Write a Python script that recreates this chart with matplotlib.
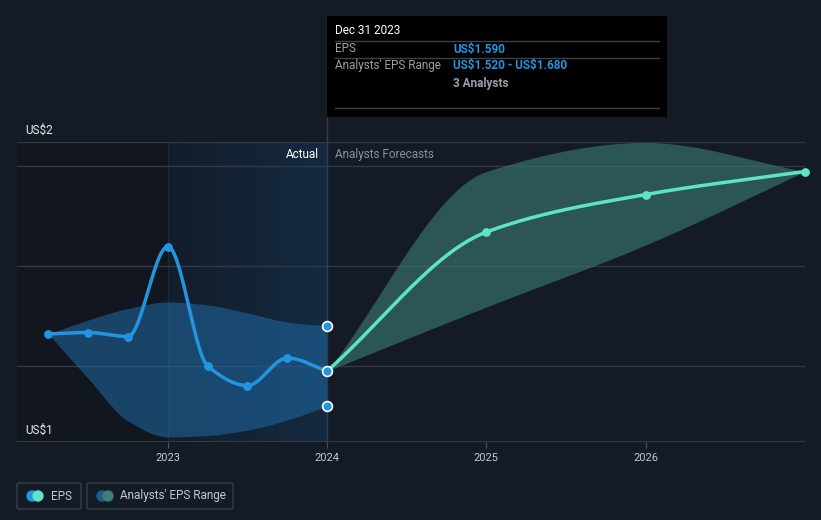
import numpy as np
import matplotlib
matplotlib.use("Agg")
import matplotlib.pyplot as plt
from matplotlib.patches import FancyBboxPatch, Rectangle, Ellipse
from matplotlib.lines import Line2D
from matplotlib.colors import LinearSegmentedColormap

plt.rcParams['font.family'] = ['Roboto', 'DejaVu Sans']
plt.rcParams['text.parse_math'] = False

# ---- data ----
past_x = [2022.25, 2022.5, 2022.75, 2023.0, 2023.25, 2023.5, 2023.75, 2024.0]
past_eps = [1.664, 1.667, 1.659, 1.839, 1.600, 1.561, 1.616, 1.590]
past_hi = [1.664, 1.692, 1.715, 1.728, 1.722, 1.706, 1.688, 1.680]
past_lo = [1.664, 1.575, 1.490, 1.458, 1.461, 1.472, 1.492, 1.520]

fc_x = [2024.0, 2025.0, 2026.0, 2027.0]
fc_eps = [1.590, 1.868, 1.943, 1.989]
fc_hi = [1.590, 1.989, 2.047, 1.989]
fc_lo = [1.590, 1.718, 1.842, 1.989]

year_ticks = [2023, 2024, 2025, 2026]
year_labels = ["2023", "2024", "2025", "2026"]
y_top_label = "US$2"
y_bot_label = "US$1"
gridlines = [1.6, 1.8, 2.0]
ylim = (1.448, 2.048)
xlim = (2022.053, 2027.0)


def pchip(x, y, n=200):
    x = np.asarray(x, float); y = np.asarray(y, float)
    h = np.diff(x); d = np.diff(y) / h
    m = np.zeros_like(y)
    for k in range(1, len(x) - 1):
        if d[k - 1] * d[k] <= 0:
            m[k] = 0
        else:
            w1 = 2 * h[k] + h[k - 1]; w2 = h[k] + 2 * h[k - 1]
            m[k] = (w1 + w2) / (w1 / d[k - 1] + w2 / d[k])
    m[0] = d[0]; m[-1] = d[-1]
    xs, ys = [], []
    for k in range(len(x) - 1):
        t = np.linspace(0, 1, n)
        hk = h[k]
        h00 = 2 * t**3 - 3 * t**2 + 1; h10 = t**3 - 2 * t**2 + t
        h01 = -2 * t**3 + 3 * t**2; h11 = t**3 - t**2
        xs.append(x[k] + t * hk)
        ys.append(h00 * y[k] + h10 * hk * m[k] + h01 * y[k + 1] + h11 * hk * m[k + 1])
    return np.concatenate(xs), np.concatenate(ys)


BG = "#151b25"
fig = plt.figure(figsize=(8.21, 5.2), dpi=100, facecolor=BG)
ax = fig.add_axes([17 / 821, 78 / 520, 788 / 821, 300 / 520])
ax.set_facecolor(BG)
ax.set_xlim(*xlim)
ax.set_ylim(*ylim)
for s in ax.spines.values():
    s.set_visible(False)

# darker region left of 2023
ax.axvspan(xlim[0], 2023.0, color="#12161e", zorder=0, lw=0)
# highlighted "actual" region gradient
grad = np.linspace(0, 1, 256).reshape(1, -1)
cmap = LinearSegmentedColormap.from_list("g", ["#141d2a", "#132a41"])
ax.imshow(grad, extent=[2023.0, 2024.0, ylim[0], ylim[1]], aspect="auto", cmap=cmap, zorder=0.5)
ax.axvline(2023.0, color="#182a3e", lw=1, zorder=0.6)

# gridlines
for g in gridlines + [ylim[1]]:
    ax.axhline(g, color="#323944", lw=1, zorder=1)
ax.axhline(ylim[0], color="#3a404b", lw=1.2, zorder=1)

# past range band
bx, bhi = pchip(past_x, past_hi)
_, blo = pchip(past_x, past_lo)
ax.fill_between(bx, blo, bhi, color="#1f6aa5", alpha=0.55, lw=0, zorder=2)

# forecast band
fx, fhi = pchip(fc_x, fc_hi)
_, flo = pchip(fc_x, fc_lo)
ax.fill_between(fx, flo, fhi, color="#3a7c77", alpha=0.6, lw=0, zorder=2)

# EPS lines
px, py = pchip(past_x, past_eps)
ax.plot(px, py, color="#2394df", lw=2.5, zorder=4, solid_capstyle="round")
qx, qy = pchip(fc_x, fc_eps)
ax.plot(qx, qy, color="#5fe3c8", lw=2.5, zorder=4, solid_capstyle="round")

ax.scatter(past_x[:-1], past_eps[:-1], s=40, color="#2394df", zorder=5, lw=0)
ax.scatter(fc_x[1:], fc_eps[1:], s=40, color="#5fe3c8", zorder=5, lw=0, clip_on=False)
ax.scatter([past_x[-1]] * 3, [past_eps[-1], past_hi[-1], past_lo[-1]], s=50,
           color="#2394df", edgecolor="white", lw=1.2, zorder=6)

# current-date line extending to the tooltip
ax.plot([2024.0, 2024.0], [ylim[0], ylim[1] + 0.25], color="#2c3e55", lw=1, zorder=3, clip_on=False)

# ticks
ax.set_xticks(year_ticks)
ax.set_xticklabels(year_labels, color="#c4c8cf", fontsize=8)
ax.tick_params(axis="x", length=4, color="#4a505b", pad=4)
ax.set_yticks([])

# y labels
fig.text(25 / 821, 1 - 130 / 520, y_top_label, color="#e8eaee", fontsize=8.5, va="center")
fig.text(25 / 821, 1 - 430 / 520, y_bot_label, color="#e8eaee", fontsize=8.5, va="center")

# Actual / Forecast labels
fig.text(319 / 821, 1 - 154 / 520, "Actual", color="#ffffff", fontsize=8.5, ha="right", va="center")
fig.text(335 / 821, 1 - 154 / 520, "Analysts Forecasts", color="#8b9099", fontsize=8.5, ha="left", va="center")

# tooltip
fig.patches.append(Rectangle((327 / 821, 1 - 117 / 520), 340 / 821, 101 / 520,
                             transform=fig.transFigure, facecolor="#000000", edgecolor="none", zorder=10))
for yy in [41, 58, 108]:
    fig.lines.append(Line2D([335 / 821, 659 / 821], [1 - yy / 520] * 2, transform=fig.transFigure,
                            color="#3d4249", lw=1, zorder=11))
fig.text(335 / 821, 1 - 31 / 520, "Dec 31 2023", color="#ffffff", fontsize=8.5, va="center", zorder=12)
fig.text(335 / 821, 1 - 49 / 520, "EPS", color="#9aa0a8", fontsize=8.5, va="center", zorder=12)
fig.text(453 / 821, 1 - 49 / 520, "US$1.590", color="#2394df", fontsize=8.5, va="center", weight="bold", zorder=12)
fig.text(335 / 821, 1 - 66 / 520, "Analysts' EPS Range", color="#9aa0a8", fontsize=8.5, va="center", zorder=12)
fig.text(453 / 821, 1 - 66 / 520, "US$1.520 - US$1.680", color="#2394df", fontsize=8.5, va="center", weight="bold", zorder=12)
fig.text(453 / 821, 1 - 83 / 520, "3 Analysts", color="#9aa0a8", fontsize=8.5, va="center", weight="bold", zorder=12)

# legend
def legend_box(x0, w, label, c1, c2, tx):
    fig.patches.append(FancyBboxPatch((x0 / 821, 1 - 509 / 520), w / 821, 26 / 520,
                                      boxstyle="round,pad=0,rounding_size=0.003",
                                      transform=fig.transFigure, facecolor=BG, edgecolor="#3a404b", lw=1))
    fig.patches.append(Ellipse(((x0 + 15) / 821, 1 - 496 / 520), 10 / 821, 10 / 520,
                               transform=fig.transFigure, color=c1))
    fig.patches.append(Ellipse(((x0 + 21) / 821, 1 - 496 / 520), 10 / 821, 10 / 520,
                               transform=fig.transFigure, color=c2))
    fig.text(tx / 821, 1 - 496 / 520, label, color="#c4c8cf", fontsize=8.5, va="center")

legend_box(17, 64, "EPS", "#2394df", "#5fe3c8", 51)
legend_box(87, 146, "Analysts' EPS Range", "#1f5a8a", "#3b8079", 120)

fig.savefig("out.png", dpi=100, facecolor=BG)
